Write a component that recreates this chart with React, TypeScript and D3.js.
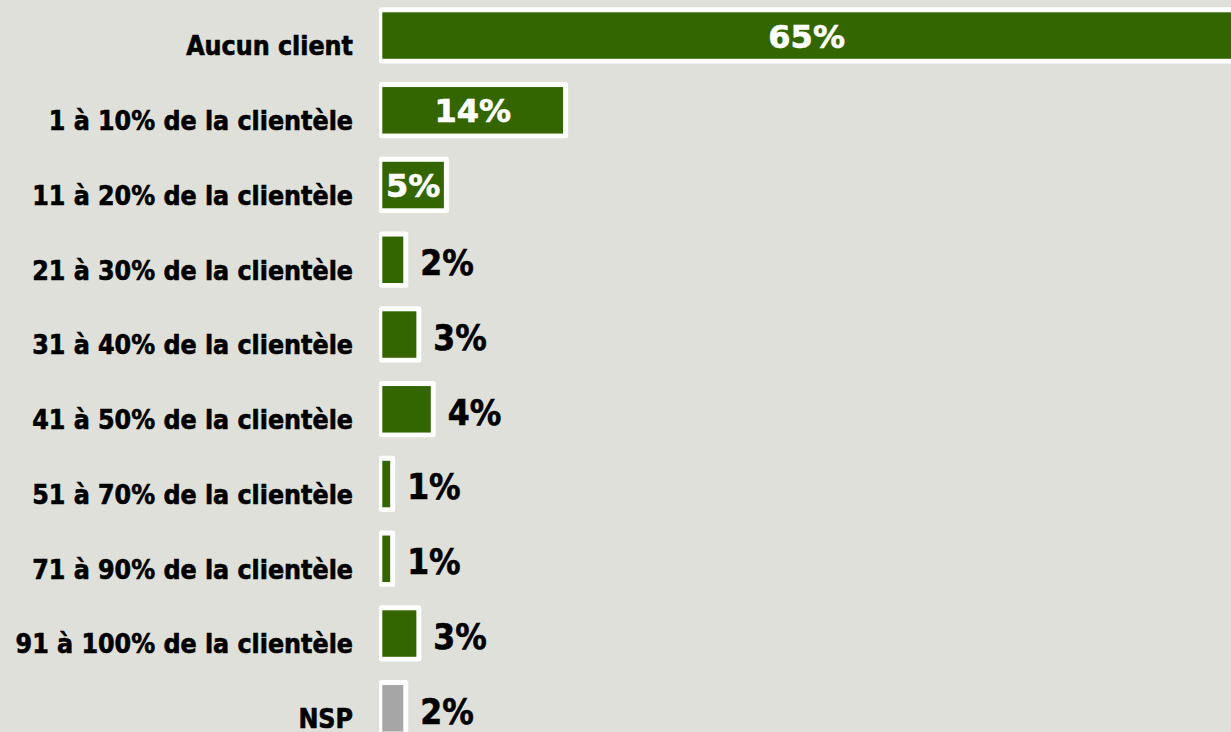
import React from "react";
import * as d3 from "d3";

const categories = [
  "Aucun client",
  "1 à 10% de la clientèle",
  "11 à 20% de la clientèle",
  "21 à 30% de la clientèle",
  "31 à 40% de la clientèle",
  "41 à 50% de la clientèle",
  "51 à 70% de la clientèle",
  "71 à 90% de la clientèle",
  "91 à 100% de la clientèle",
  "NSP",
];
const values = [65, 13.8, 4.7, 1.6, 2.6, 3.7, 0.6, 0.6, 2.6, 1.6];
const isNSP = [false, false, false, false, false, false, false, false, false, true];

const W = 1231;
const H = 732;
const BG = "#dfe0da";
const GREEN = "#336600";
const GREY = "#a6a6a6";
const CONDENSED = "'DejaVu Sans Condensed', 'DejaVu Sans', sans-serif";
const WIDE = "'DejaVu Sans', sans-serif";

export default function App() {
  const x = d3.scaleLinear().domain([0, 65]).range([382.3, 1233.8]);
  const step = 74.75;
  const pad = 0.378;
  const y = d3
    .scaleBand<string>()
    .domain(categories)
    .range([12.3, 12.3 + step * (categories.length - pad)])
    .paddingInner(pad)
    .paddingOuter(0);
  const bh = y.bandwidth();

  return (
    <svg
      width={W}
      height={H}
      style={{ position: "absolute", left: 0, top: 0, display: "block" }}
    >
      <rect x={0} y={0} width={W} height={H} fill={BG} />
      {categories.map((c, i) => {
        const v = values[i];
        const top = y(c)!;
        const x0 = x(0);
        const x1 = x(v);
        const w = x1 - x0;
        const inside = v >= 4.5;
        const label = `${Math.round(v)}%`;
        return (
          <g key={c}>
            <rect
              x={x0 - 3.3}
              y={top - 5}
              width={w + 8.3}
              height={bh + 9.8}
              rx={2.5}
              fill="#ffffff"
            />
            <rect x={x0} y={top} width={w} height={bh} fill={isNSP[i] ? GREY : GREEN} />
            <text
              x={353}
              y={top + bh - 3.5}
              textAnchor="end"
              fontFamily={CONDENSED}
              fontWeight="bold"
              fontSize={26.5}
              fill="#000"
              stroke="#000"
              strokeWidth={0.6}
            >
              {c}
            </text>
            {inside ? (
              <text
                x={(x0 + Math.min(x1, W)) / 2}
                y={top + bh / 2 + 12}
                textAnchor="middle"
                fontFamily={WIDE}
                fontWeight="bold"
                fontSize={32}
                fill="#ffffff"
                stroke="#ffffff"
                strokeWidth={0.6}
              >
                {label}
              </text>
            ) : (
              <text
                x={x1 + 17}
                y={top + bh - 8}
                fontFamily={CONDENSED}
                fontWeight="bold"
                fontSize={35}
                fill="#000"
                stroke="#000"
                strokeWidth={0.6}
              >
                {label}
              </text>
            )}
          </g>
        );
      })}
    </svg>
  );
}
